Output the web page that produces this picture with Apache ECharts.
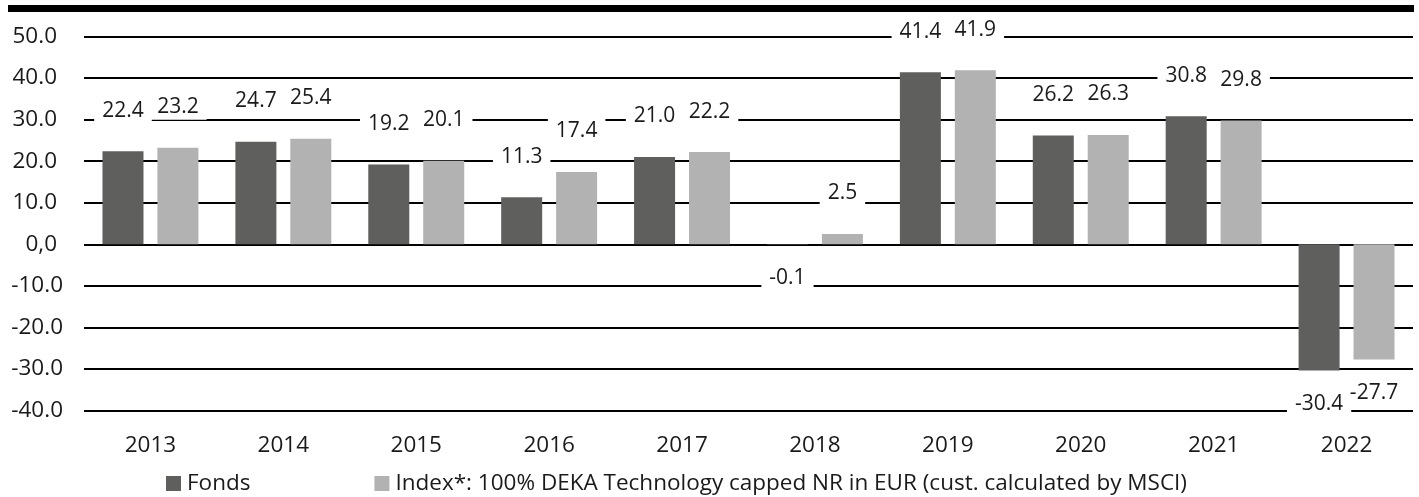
<!DOCTYPE html>
<html>
<head>
<meta charset="utf-8">
<script src="https://cdn.jsdelivr.net/npm/echarts@6/dist/echarts.min.js"></script>
<style>
html,body{margin:0;padding:0;background:#fff;}
#chart{width:1419px;height:497px;}
</style>
</head>
<body>
<div id="chart"></div>
<script>
const categories = ['2013','2014','2015','2016','2017','2018','2019','2020','2021','2022'];
const fondsValues = [22.4, 24.7, 19.2, 11.3, 21.0, -0.1, 41.4, 26.2, 30.8, -30.4];
const indexValues = [23.2, 25.4, 20.1, 17.4, 22.2, 2.5, 41.9, 26.3, 29.8, -27.7];
const seriesNames = ['Fonds', 'Index*: 100% DEKA Technology capped NR in EUR (cust. calculated by MSCI)'];
const yTicks = {min: -40, max: 50, interval: 10};

const FONT = '"Open Sans", "Noto Sans", sans-serif';
const TXT = '#1a1a1a';

function toItems(vals) {
  return vals.map(v => ({
    value: v,
    label: v < 0 ? {position: 'bottom', distance: 20} : {position: 'top', distance: 28}
  }));
}

const labelStyle = {
  show: true,
  formatter: p => p.value.toFixed(1),
  color: TXT,
  fontFamily: FONT,
  fontSize: 21,
  backgroundColor: '#fff',
  padding: [3, 8, 2, 8]
};

const chart = echarts.init(document.getElementById('chart'), null, {renderer: 'canvas'});
chart.setOption({
  animation: false,
  backgroundColor: '#fff',
  textStyle: {fontFamily: FONT},
  graphic: [{
    type: 'rect', left: 8, top: 5, z: 10,
    shape: {width: 1406, height: 7},
    style: {fill: '#000'}
  }],
  grid: {left: 84, right: 6, top: 36.5, bottom: 86.5, containLabel: false},
  legend: {
    left: 166, top: 472, padding: 0,
    itemWidth: 15, itemHeight: 15, itemGap: 124,
    icon: 'rect',
    textStyle: {color: TXT, fontFamily: FONT, fontSize: 22.5, padding: [0,0,0,1]},
    data: seriesNames
  },
  xAxis: {
    type: 'category',
    data: categories,
    position: 'bottom',
    axisLine: {show: false, onZero: false},
    axisTick: {show: false},
    axisLabel: {color: TXT, fontFamily: FONT, fontSize: 22.5, margin: 24}
  },
  yAxis: {
    type: 'value',
    min: yTicks.min, max: yTicks.max, interval: yTicks.interval,
    axisLine: {show: false},
    axisTick: {show: false},
    splitLine: {lineStyle: {color: '#000', width: 2}},
    axisLabel: {
      color: TXT, fontFamily: FONT, fontSize: 22.5, margin: 21,
      formatter: v => v === 0 ? '{p|0,0}' : (v > 0 ? '{p|' + v.toFixed(1) + '}' : '{n|' + v.toFixed(1) + '}'),
      rich: {
        p: {fontFamily: FONT, fontSize: 22.5, color: TXT, padding: [0, 6, 0, 0]},
        n: {fontFamily: FONT, fontSize: 22.5, color: TXT}
      }
    }
  },
  series: [
    {
      name: seriesNames[0], type: 'bar', data: toItems(fondsValues),
      barWidth: 41, barGap: '34%',
      itemStyle: {color: '#5f5f5e'},
      label: labelStyle, z: 3
    },
    {
      name: seriesNames[1], type: 'bar', data: toItems(indexValues),
      barWidth: 41, barGap: '34%',
      itemStyle: {color: '#b2b2b2'},
      label: labelStyle, z: 3
    }
  ]
});
</script>
</body>
</html>
